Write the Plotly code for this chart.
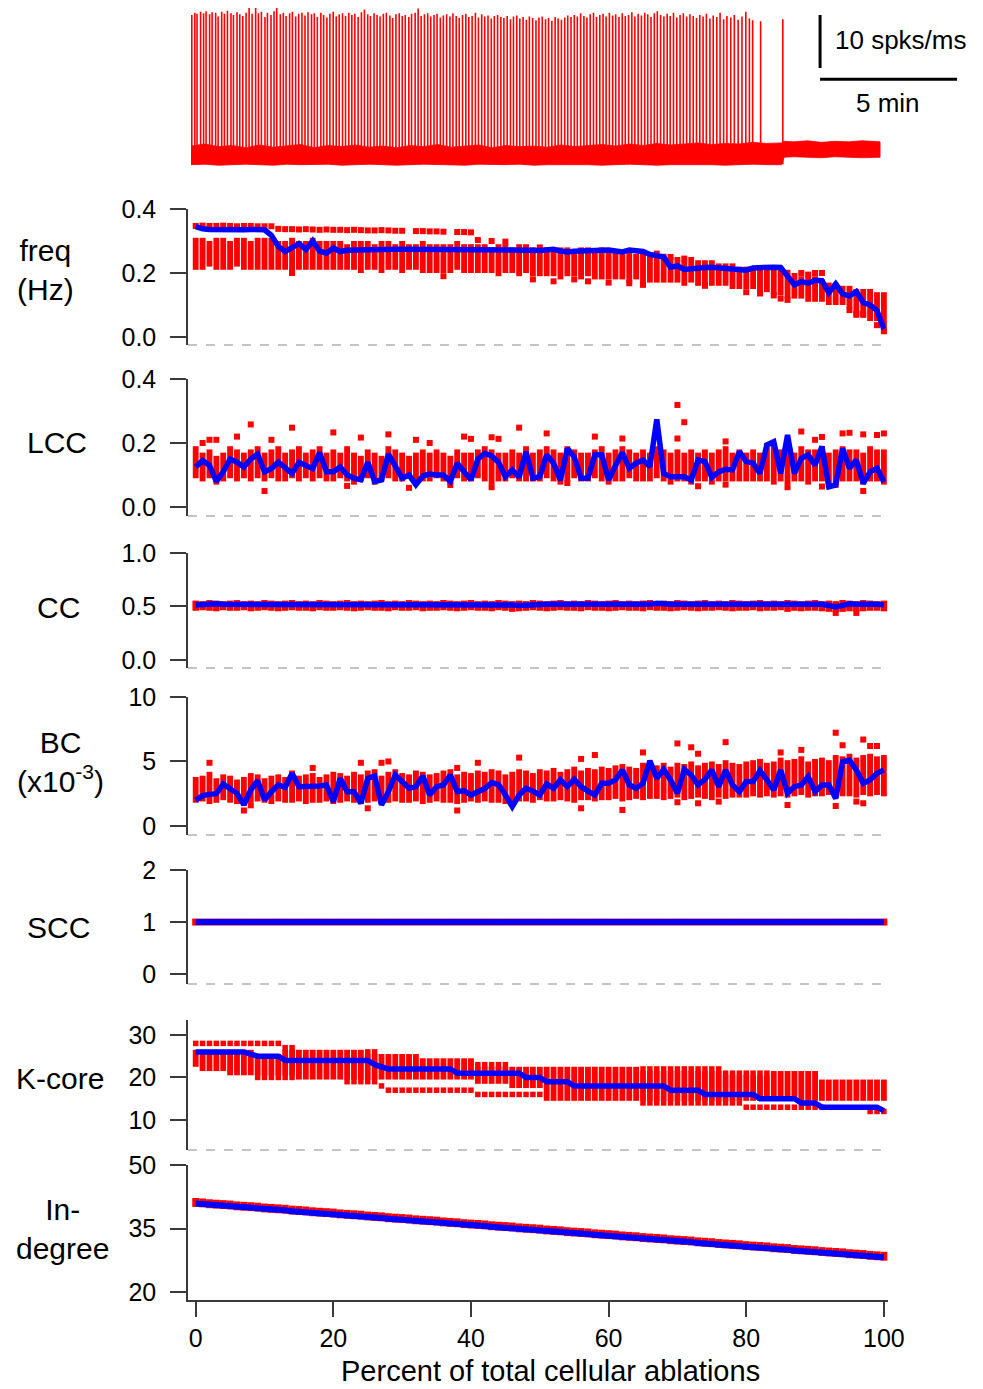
import plotly.graph_objects as go

# The page body has an 8px margin: the figure is sized to fill the rest of the window.
OFF = 8
W, H = 983 - OFF, 1389 - OFF

# ---------------- data ----------------
pct = list(range(0, 101))

freq_mean = [0.345,0.338,0.336,0.335,0.335,0.335,0.335,0.335,0.336,0.336,
             0.335,0.318,0.283,0.267,0.280,0.292,0.273,0.300,0.268,0.262,
             0.278,0.267,0.271,0.272,0.272,0.273,0.273,0.273,0.274,0.274,
             0.274,0.274,0.275,0.275,0.275,0.275,0.275,0.274,0.275,0.275,
             0.275,0.274,0.274,0.274,0.274,0.273,0.273,0.272,0.271,0.271,
             0.270,0.273,0.274,0.269,0.266,0.268,0.269,0.270,0.271,0.272,
             0.272,0.269,0.266,0.272,0.270,0.267,0.258,0.254,0.250,0.218,
             0.222,0.211,0.214,0.215,0.217,0.218,0.216,0.213,0.211,0.210,
             0.209,0.216,0.218,0.218,0.218,0.217,0.190,0.163,0.173,0.168,
             0.177,0.176,0.138,0.166,0.135,0.128,0.142,0.108,0.100,0.082,
             0.025]
freq_hi = [0.31,0.31,0.30,0.31,0.31,0.30,0.31,0.31,0.30,0.31,
           0.31,0.31,0.30,0.30,0.31,0.30,0.30,0.31,0.30,0.30,
           0.30,0.30,0.29,0.30,0.30,0.30,0.29,0.30,0.30,0.29,
           0.30,0.29,0.29,0.30,0.29,0.29,0.29,0.29,0.30,0.29,
           0.29,0.29,0.29,0.28,0.29,0.29,0.28,0.29,0.29,0.28,
           0.28,0.28,0.28,0.28,0.28,0.27,0.28,0.28,0.27,0.28,
           0.27,0.27,0.27,0.27,0.26,0.27,0.26,0.27,0.26,0.25,
           0.25,0.24,0.25,0.24,0.24,0.24,0.23,0.23,0.23,0.22,
           0.22,0.22,0.22,0.21,0.22,0.21,0.21,0.20,0.19,0.19,
           0.19,0.18,0.17,0.17,0.16,0.16,0.15,0.15,0.15,0.14,
           0.14]
freq_lo = [0.21,0.21,0.22,0.21,0.21,0.21,0.22,0.21,0.21,0.21,
           0.21,0.21,0.21,0.21,0.20,0.21,0.21,0.21,0.21,0.21,
           0.21,0.21,0.21,0.21,0.20,0.21,0.21,0.20,0.21,0.21,
           0.20,0.21,0.21,0.20,0.20,0.20,0.20,0.20,0.21,0.20,
           0.20,0.20,0.20,0.20,0.19,0.20,0.20,0.19,0.20,0.19,
           0.19,0.19,0.19,0.18,0.19,0.19,0.18,0.19,0.18,0.18,
           0.18,0.18,0.18,0.17,0.18,0.17,0.17,0.17,0.17,0.17,
           0.17,0.16,0.17,0.16,0.16,0.16,0.16,0.16,0.15,0.15,
           0.15,0.15,0.14,0.14,0.13,0.13,0.12,0.12,0.12,0.11,
           0.11,0.11,0.10,0.10,0.10,0.09,0.06,0.06,0.05,0.05,
           0.01]
freq_toprow = [0.347,0.348,0.347,0.347,0.348,0.347,0.346,0.347,0.347,0.346,
               0.346,0.346,0.338,0.337,0.337,0.336,0.337,0.336,0.335,0.336,
               0.335,0.335,0.334,0.335,0.334,0.333,0.333,0.334,0.333,0.332,
               0.332,None,0.331,0.331,0.330,0.330,0.329,None,0.328,0.328,
               0.327,0.303,None,0.300,None,0.298,None,None,None,None,
               None,None,None,None,None,None,None,None,None,None,
               None,None,None,None,None,None,None,None,None,None,
               None,None,None,None,None,None,None,None,None,None,
               None,None,None,None,None,None,None,None,None,None,
               None,None,None,None,None,None,None,None,None,None,
               None]
freq_out_x = [14, 36, 49, 50, 52, 55, 57, 60, 63, 65, 69, 71, 74, 80, 82, 84,
              85, 86, 88, 89, 90, 91, 95, 96, 97, 99, 100]
freq_out_y = [0.20, 0.19, 0.18, 0.28, 0.174, 0.18, 0.174, 0.17, 0.168, 0.163,
              0.25, 0.245, 0.16, 0.14, 0.136, 0.13, 0.12, 0.116, 0.20, 0.195,
              0.20, 0.20, 0.084, 0.073, 0.071, 0.037, 0.018]

lcc_mean = [0.125,0.145,0.13,0.08,0.11,0.15,0.14,0.125,0.15,0.165,
            0.11,0.12,0.14,0.12,0.105,0.14,0.13,0.12,0.17,0.11,
            0.11,0.125,0.10,0.09,0.085,0.14,0.08,0.085,0.165,0.125,
            0.09,0.10,0.07,0.097,0.103,0.10,0.10,0.08,0.137,0.11,
            0.085,0.15,0.168,0.16,0.14,0.095,0.116,0.093,0.173,0.09,
            0.095,0.163,0.137,0.084,0.183,0.157,0.09,0.09,0.163,0.163,
            0.084,0.13,0.17,0.121,0.137,0.147,0.126,0.274,0.105,0.095,
            0.097,0.095,0.084,0.147,0.142,0.093,0.11,0.118,0.116,0.173,
            0.142,0.137,0.105,0.194,0.204,0.105,0.225,0.105,0.152,0.163,
            0.131,0.189,0.063,0.069,0.183,0.121,0.147,0.074,0.11,0.121,
            0.078]
lcc_hi = [0.19,0.17,0.18,0.16,0.17,0.19,0.18,0.17,0.18,0.19,
          0.17,0.18,0.19,0.17,0.18,0.19,0.17,0.18,0.19,0.17,
          0.18,0.17,0.19,0.17,0.16,0.18,0.17,0.16,0.19,0.18,
          0.17,0.16,0.17,0.18,0.17,0.18,0.17,0.16,0.18,0.17,
          0.17,0.18,0.19,0.18,0.17,0.17,0.18,0.17,0.19,0.17,
          0.18,0.19,0.18,0.17,0.19,0.18,0.17,0.17,0.18,0.19,
          0.17,0.18,0.19,0.18,0.17,0.18,0.17,0.19,0.18,0.17,
          0.18,0.17,0.18,0.17,0.18,0.17,0.18,0.19,0.17,0.18,
          0.17,0.18,0.17,0.20,0.20,0.18,0.20,0.17,0.19,0.18,
          0.18,0.19,0.17,0.18,0.19,0.18,0.18,0.17,0.19,0.18,
          0.18]
lcc_lo = [0.09,0.08,0.09,0.07,0.08,0.09,0.08,0.09,0.08,0.09,
          0.08,0.09,0.08,0.08,0.09,0.08,0.09,0.08,0.09,0.08,
          0.08,0.09,0.08,0.07,0.08,0.09,0.07,0.08,0.09,0.08,
          0.08,0.09,0.07,0.08,0.08,0.09,0.08,0.07,0.09,0.08,
          0.08,0.09,0.08,0.07,0.08,0.08,0.09,0.08,0.08,0.08,
          0.08,0.09,0.08,0.07,0.08,0.09,0.08,0.08,0.09,0.08,
          0.07,0.08,0.08,0.09,0.08,0.08,0.08,0.09,0.08,0.07,
          0.08,0.08,0.07,0.08,0.08,0.07,0.08,0.08,0.08,0.08,
          0.08,0.08,0.08,0.08,0.07,0.08,0.07,0.08,0.08,0.07,
          0.08,0.08,0.06,0.06,0.08,0.08,0.08,0.07,0.08,0.08,
          0.07]
lcc_out_x = [1, 2, 3, 6, 8, 10, 11, 14, 20, 22, 24, 28, 31, 32, 34, 37, 39, 40,
             43, 43, 44, 47, 51, 54, 58, 62, 70, 70, 71, 73, 77, 77, 86, 88, 90,
             91, 91, 94, 95, 97, 97, 99, 100]
lcc_out_y = [0.20, 0.21, 0.21, 0.22, 0.258, 0.05, 0.21, 0.248, 0.233, 0.066,
             0.217, 0.227, 0.06, 0.21, 0.20, 0.069, 0.22, 0.213, 0.218, 0.062,
             0.213, 0.248, 0.23, 0.075, 0.22, 0.214, 0.319, 0.214, 0.265, 0.065,
             0.205, 0.07, 0.062, 0.236, 0.21, 0.219, 0.064, 0.23, 0.232, 0.227,
             0.05, 0.225, 0.23]

cc_mean = [0.515,0.52,0.52,0.525,0.52,0.52,0.52,0.525,0.52,0.52,
           0.52,0.525,0.52,0.52,0.52,0.52,0.525,0.52,0.52,0.52,
           0.52,0.52,0.525,0.52,0.52,0.52,0.52,0.52,0.525,0.52,
           0.52,0.52,0.52,0.52,0.525,0.52,0.52,0.52,0.52,0.52,
           0.52,0.52,0.52,0.52,0.52,0.52,0.515,0.51,0.515,0.52,
           0.52,0.52,0.52,0.525,0.52,0.52,0.52,0.52,0.52,0.52,
           0.515,0.52,0.52,0.52,0.52,0.52,0.52,0.53,0.52,0.52,
           0.52,0.52,0.52,0.515,0.52,0.52,0.52,0.52,0.52,0.52,
           0.52,0.52,0.525,0.52,0.52,0.52,0.515,0.52,0.52,0.52,
           0.52,0.52,0.51,0.495,0.51,0.525,0.52,0.515,0.52,0.52,
           0.515]
cc_hi = [0.555,0.55,0.56,0.555,0.55,0.555,0.56,0.55,0.555,0.55,
         0.56,0.555,0.55,0.555,0.56,0.55,0.555,0.55,0.56,0.555,
         0.55,0.555,0.56,0.55,0.555,0.55,0.555,0.56,0.55,0.555,
         0.55,0.56,0.555,0.55,0.555,0.55,0.56,0.555,0.55,0.555,
         0.56,0.55,0.555,0.55,0.56,0.555,0.55,0.555,0.55,0.56,
         0.555,0.55,0.555,0.56,0.55,0.555,0.55,0.56,0.555,0.55,
         0.555,0.56,0.55,0.555,0.55,0.555,0.56,0.55,0.555,0.55,
         0.56,0.555,0.55,0.555,0.56,0.55,0.555,0.55,0.56,0.555,
         0.55,0.555,0.56,0.55,0.555,0.55,0.56,0.555,0.55,0.555,
         0.56,0.55,0.555,0.55,0.56,0.555,0.55,0.56,0.555,0.55,
         0.555]
cc_lo = [0.46,0.465,0.46,0.455,0.465,0.46,0.46,0.465,0.455,0.46,
         0.465,0.46,0.455,0.46,0.465,0.46,0.46,0.455,0.465,0.46,
         0.46,0.465,0.46,0.455,0.46,0.465,0.46,0.46,0.455,0.465,
         0.46,0.46,0.465,0.455,0.46,0.46,0.465,0.46,0.455,0.46,
         0.465,0.46,0.46,0.455,0.465,0.46,0.45,0.455,0.46,0.465,
         0.46,0.455,0.46,0.465,0.46,0.46,0.455,0.465,0.46,0.46,
         0.455,0.46,0.465,0.46,0.46,0.455,0.465,0.46,0.46,0.455,
         0.46,0.465,0.46,0.455,0.46,0.46,0.465,0.46,0.455,0.46,
         0.46,0.465,0.455,0.46,0.46,0.465,0.45,0.46,0.455,0.46,
         0.46,0.455,0.45,0.445,0.45,0.455,0.45,0.455,0.46,0.46,
         0.455]
cc_out_x = [93, 96]
cc_out_y = [0.44, 0.44]

bc_mean = [2.0,2.35,2.45,2.5,3.26,2.92,2.53,1.63,2.79,3.51,
           2.02,2.66,3.18,3.0,4.08,3.05,3.05,3.05,3.1,3.18,
           1.89,3.69,2.66,2.66,1.76,3.69,3.87,1.63,2.66,3.95,
           3.44,2.92,3.05,3.87,2.4,3.05,3.18,3.95,2.66,2.74,
           2.4,2.6,2.9,3.36,3.2,2.4,1.5,2.4,2.92,2.7,
           2.4,3.26,2.92,3.57,3.05,3.62,3.05,2.7,2.4,3.31,
           3.31,3.57,4.34,3.18,2.92,3.31,5.06,3.69,4.39,3.57,
           2.53,4.39,3.95,3.18,3.62,4.34,3.05,4.34,3.18,2.66,
           3.44,3.44,4.29,3.57,2.79,4.34,2.53,3.05,3.18,3.82,
           2.66,3.18,3.18,2.14,4.98,5.1,4.34,3.31,3.57,4.08,
           4.34]
bc_hi = [3.8,3.9,4.2,3.7,4.0,3.9,3.6,3.8,4.1,4.0,
         3.7,3.9,4.0,3.8,4.3,3.9,4.0,4.1,3.8,4.0,
         4.2,4.1,3.9,4.2,4.0,4.3,4.4,3.9,4.2,4.4,
         4.1,4.0,4.3,4.2,4.0,4.1,4.3,4.4,4.0,4.2,
         4.1,4.3,4.2,4.4,4.3,4.0,4.2,4.4,4.3,4.1,
         4.4,4.3,4.5,4.2,4.4,4.6,4.3,4.5,4.4,4.6,
         4.5,4.7,4.8,4.6,4.5,4.9,4.8,4.7,4.9,4.6,
         4.9,4.8,5.0,4.7,4.9,5.0,4.8,5.1,4.9,4.8,
         5.0,5.1,5.2,4.9,5.0,5.3,5.1,5.2,5.4,5.0,
         5.2,5.3,5.1,5.5,5.4,5.6,5.3,5.5,5.6,5.4,
         5.5]
bc_lo = [1.8,1.9,1.7,1.8,2.0,1.8,1.7,1.6,1.8,1.9,
         1.8,1.7,1.9,1.8,1.8,1.9,1.7,1.8,1.8,1.9,
         1.7,1.8,1.9,1.8,1.7,1.8,1.9,1.7,1.8,1.9,
         1.8,1.8,1.9,1.7,1.8,1.9,1.8,1.8,1.7,1.8,
         1.9,1.8,1.9,1.8,1.8,1.7,1.8,1.9,1.9,1.8,
         2.0,1.9,1.9,2.0,1.9,1.8,2.0,2.0,1.9,2.0,
         2.0,2.1,1.9,2.0,2.1,2.0,2.1,2.1,2.0,2.1,
         2.2,2.0,2.1,2.2,2.1,2.0,2.2,2.1,2.2,2.2,
         2.2,2.3,2.2,2.3,2.2,2.3,2.2,2.3,2.4,2.2,
         2.3,2.3,2.4,2.2,2.3,2.3,2.2,2.4,2.3,2.4,
         2.3]
bc_out_x = [2, 7, 8, 17, 24, 25, 27, 28, 38, 38, 41, 47, 56, 56, 58, 62, 65, 70,
            70, 72, 73, 73, 76, 77, 85, 86, 88, 93, 93, 94, 96, 97, 97, 98, 99]
bc_out_y = [4.9, 1.2, 1.6, 4.5, 4.9, 1.37, 4.9, 5.0, 4.5, 1.2, 4.9, 5.3, 5.2,
            1.37, 5.5, 1.24, 5.7, 6.4, 1.84, 6.1, 5.6, 1.76, 1.89, 6.5, 5.7,
            1.63, 5.9, 7.23, 1.55, 6.26, 1.89, 6.7, 1.76, 6.2, 6.2]

scc_mean = [1,1,1,1,1,1,1,1,1,1, 1,1,1,1,1,1,1,1,1,1, 1,1,1,1,1,1,1,1,1,1,
            1,1,1,1,1,1,1,1,1,1, 1,1,1,1,1,1,1,1,1,1, 1,1,1,1,1,1,1,1,1,1,
            1,1,1,1,1,1,1,1,1,1, 1,1,1,1,1,1,1,1,1,1, 1,1,1,1,1,1,1,1,1,1,
            1,1,1,1,1,1,1,1,1,1, 1]
scc_trials = [1,1,1,1,1,1,1,1,1,1, 1,1,1,1,1,1,1,1,1,1, 1,1,1,1,1,1,1,1,1,1,
              1,1,1,1,1,1,1,1,1,1, 1,1,1,1,1,1,1,1,1,1, 1,1,1,1,1,1,1,1,1,1,
              1,1,1,1,1,1,1,1,1,1, 1,1,1,1,1,1,1,1,1,1, 1,1,1,1,1,1,1,1,1,1,
              1,1,1,1,1,1,1,1,1,1, 1]

kc_mean = [26,26,26,26,26,26,26,26,25.5,25,
           25,25,25,24,24,24,24,24,24,24,
           24,24,24,24,24,24,23,22.4,22,22,
           22,22,22,22,22,22,22,22,21,21,
           21,21,21,21,21,21,21,21,20,20,
           20,19,19,19,19,18,18,18,18,18,
           18,18,18,18,18,18,18,18,18,17,
           17,17,17,17,16,16,16,16,16,16,
           16,16,15,15,15,15,15,15,14,14,
           14,13,13,13,13,13,13,13,13,13,
           12.2]
kc_hi = [26,26,26,26,26,26,26,26,26,25,
         25,25,25,26,26,26,26,26,26,26,
         26,26,26,26,26,25,25,25,25,25,
         25,25,25,24,24,24,24,24,24,24,
         24,22,22,22,22,22,22,22,22,22,
         22,22,22,22,22,22,22,22,22,22,
         22,22,22,22,22,21,21,21,21,21,
         21,21,21,21,21,21,21,20,20,20,
         20,20,20,20,21,21,21,21,21,21,
         21,19,19,19,19,19,19,19,19,19,
         19]
kc_lo = [23,22,22,22,22,21,21,21,21,21,
         21,21,21,21,21,20,20,20,20,20,
         20,20,20,20,20,20,20,20,20,20,
         20,20,20,20,20,20,20,20,20,20,
         20,19,19,19,19,19,18,18,18,18,
         18,15,15,15,15,15,15,15,15,15,
         15,15,15,15,15,15,15,15,15,15,
         15,15,15,15,15,15,15,15,15,15,
         15,15,15,15,15,15,15,15,15,15,
         15,15,15,15,15,15,15,15,15,15,
         15]
kc_toprow = [28,28,28,28,28,28,28,28,28,28,
             28,28,28,27,27,None,None,None,None,None,
             None,None,None,None,None,26,26,None,None,None,
             None,None,None,None,None,None,None,None,None,None,
             None,23,23,23,23,23,None,None,None,None,
             None,None,None,None,None,None,None,None,None,None,
             None,None,None,None,None,22,22,22,22,22,
             22,22,22,22,22,22,22,21,21,21,
             21,21,21,21,None,None,None,None,None,None,
             None,None,None,None,None,None,None,None,None,None,
             None]
kc_lowrow = [None,None,None,None,None,None,None,None,None,20,
             20,20,20,20,20,None,None,None,None,None,
             None,None,19,19,19,19,19,18,17,17,
             17,17,17,17,17,17,17,17,17,17,
             17,16,16,16,16,16,16,16,16,16,
             16,None,None,None,None,None,None,None,None,None,
             None,None,None,None,None,14,14,14,14,14,
             14,14,14,14,14,14,14,14,14,14,
             13,13,13,13,13,13,13,13,13,13,
             13,13,None,None,None,None,None,None,12,12,
             12]

indeg_mean = [40.9,40.8,40.6,40.5,40.4,40.3,40.1,40.0,39.9,39.8,
              39.6,39.5,39.4,39.3,39.1,39.0,38.9,38.7,38.6,38.5,
              38.4,38.2,38.1,38.0,37.9,37.7,37.6,37.5,37.3,37.2,
              37.1,37.0,36.8,36.7,36.6,36.5,36.3,36.2,36.1,35.9,
              35.8,35.7,35.6,35.4,35.3,35.2,35.1,34.9,34.8,34.7,
              34.6,34.4,34.3,34.2,34.0,33.9,33.8,33.7,33.5,33.4,
              33.3,33.2,33.0,32.9,32.8,32.6,32.5,32.4,32.3,32.1,
              32.0,31.9,31.8,31.6,31.5,31.4,31.2,31.1,31.0,30.9,
              30.7,30.6,30.5,30.4,30.2,30.1,30.0,29.8,29.7,29.6,
              29.5,29.3,29.2,29.1,29.0,28.8,28.7,28.6,28.5,28.3,
              28.2]
indeg_hi = [42.2,42.1,41.9,41.8,41.7,41.6,41.4,41.3,41.2,41.1,
            40.9,40.8,40.7,40.6,40.4,40.3,40.2,40.0,39.9,39.8,
            39.7,39.5,39.4,39.3,39.2,39.0,38.9,38.8,38.6,38.5,
            38.4,38.3,38.1,38.0,37.9,37.8,37.6,37.5,37.4,37.2,
            37.1,37.0,36.9,36.7,36.6,36.5,36.4,36.2,36.1,36.0,
            35.9,35.7,35.6,35.5,35.3,35.2,35.1,35.0,34.8,34.7,
            34.6,34.5,34.3,34.2,34.1,33.9,33.8,33.7,33.6,33.4,
            33.3,33.2,33.1,32.9,32.8,32.7,32.5,32.4,32.3,32.2,
            32.0,31.9,31.8,31.7,31.5,31.4,31.3,31.1,31.0,30.9,
            30.8,30.6,30.5,30.4,30.3,30.1,30.0,29.9,29.7,29.6,
            29.5]
indeg_lo = [40.1,40.0,39.8,39.7,39.6,39.5,39.3,39.2,39.1,39.0,
            38.8,38.7,38.6,38.5,38.3,38.2,38.1,37.9,37.8,37.7,
            37.6,37.4,37.3,37.2,37.1,36.9,36.8,36.7,36.5,36.4,
            36.3,36.2,36.0,35.9,35.8,35.7,35.5,35.4,35.3,35.1,
            35.0,34.9,34.8,34.6,34.5,34.4,34.3,34.1,34.0,33.9,
            33.8,33.6,33.5,33.4,33.2,33.1,33.0,32.9,32.7,32.6,
            32.5,32.4,32.2,32.1,32.0,31.8,31.7,31.6,31.5,31.3,
            31.2,31.1,31.0,30.8,30.7,30.6,30.4,30.3,30.2,30.1,
            29.9,29.8,29.7,29.6,29.4,29.3,29.2,29.0,28.9,28.8,
            28.7,28.5,28.4,28.3,28.2,28.0,27.9,27.8,27.6,27.5,
            27.4]

# top trace: spike times (min) and peak values (spks/ms)
spike_t = [0.03,0.14,0.22,0.35,0.46,0.55,0.68,0.77,0.90,0.99,
           1.12,1.22,1.33,1.46,1.55,1.68,1.78,1.89,2.01,2.12,
           2.23,2.36,2.46,2.57,2.70,2.79,2.92,3.03,3.13,3.26,
           3.37,3.47,3.60,3.70,3.82,3.93,4.05,4.16,4.27,4.40,
           4.50,4.61,4.74,4.84,4.96,5.07,5.19,5.30,5.41,5.53,
           5.64,5.76,5.87,5.98,6.10,6.22,6.33,6.45,6.55,6.68,
           6.79,6.90,7.02,7.13,7.26,7.36,7.48,7.60,7.71,7.82,
           7.95,8.05,8.18,8.29,8.40,8.52,8.64,8.75,8.87,8.98,
           9.10,9.21,9.33,9.45,9.56,9.68,9.79,9.91,10.03,10.14,
           10.26,10.38,10.49,10.61,10.72,10.84,10.96,11.07,11.19,11.31,
           11.42,11.54,11.66,11.77,11.89,12.00,12.12,12.24,12.35,12.47,
           12.59,12.70,12.82,12.94,13.05,13.17,13.29,13.40,13.52,13.64,
           13.75,13.87,13.99,14.10,14.22,14.34,14.45,14.57,14.69,14.80,
           14.92,15.04,15.15,15.27,15.39,15.50,15.62,15.74,15.85,15.97,
           16.09,16.20,16.32,16.44,16.56,16.67,16.79,16.91,17.02,17.14,
           17.26,17.38,17.49,17.61,17.73,17.85,17.97,18.09,18.21,18.33,
           18.45,18.57,18.69,18.81,18.94,19.06,19.19,19.31,19.44,19.56,
           19.70,19.83,19.97,20.11,20.25,20.38,20.50,20.79,21.60]
spike_h = [27.2,27.6,27.4,27.8,27.5,27.9,27.3,27.7,27.6,26.9,
           27.8,27.4,28.0,27.5,27.2,27.7,27.3,27.0,27.6,28.6,
           27.4,28.9,27.5,27.8,26.8,27.6,27.2,27.9,28.7,27.3,
           27.6,27.0,27.5,27.8,26.9,27.4,27.6,27.1,27.7,27.3,
           27.5,26.8,27.6,27.2,26.7,27.4,27.8,26.9,27.3,27.5,
           27.0,27.6,27.2,27.4,26.8,27.7,28.2,27.3,27.0,27.5,
           27.2,26.9,27.4,27.6,27.1,26.6,27.3,27.5,27.0,27.2,
           26.8,27.4,27.6,28.4,27.0,27.3,27.5,26.9,27.2,27.4,
           26.7,27.1,27.3,26.9,27.5,27.0,26.6,27.2,27.4,26.8,
           27.0,27.6,26.7,27.3,26.9,27.1,26.5,27.0,27.2,26.8,
           26.6,27.0,26.4,26.9,27.1,26.5,26.8,26.3,26.9,26.6,
           26.2,26.7,26.9,26.4,26.6,26.1,26.8,26.5,26.3,26.7,
           27.1,26.8,27.2,26.9,27.5,27.0,26.7,27.3,27.6,26.8,
           27.2,27.4,26.9,27.6,27.1,27.3,26.8,27.5,27.0,27.2,
           27.7,26.9,27.4,27.1,27.6,27.3,26.8,27.5,27.9,27.2,
           26.9,27.4,27.0,27.6,26.7,27.2,27.5,26.9,27.3,27.0,
           26.6,27.2,26.9,27.4,26.5,27.1,26.8,27.6,26.4,27.0,
           26.7,27.2,26.3,26.9,27.8,26.5,26.2,26.0,26.4]
base_t = [0.0,0.5,1.0,1.5,2.0,2.5,3.0,3.5,4.0,4.5,
          5.0,5.5,6.0,6.5,7.0,7.5,8.0,8.5,9.0,9.5,
          10.0,10.5,11.0,11.5,12.0,12.5,13.0,13.5,14.0,14.5,
          15.0,15.5,16.0,16.5,17.0,17.5,18.0,18.5,19.0,19.5,
          20.0,20.5,21.0,21.55,21.65,22.0,22.5,23.0,23.5,24.0,
          24.5,25.15]
base_top = [2.5,2.9,2.4,2.6,2.2,2.7,2.3,2.5,2.8,2.2,
            2.6,2.4,2.7,2.3,2.5,2.2,2.6,2.4,2.8,2.3,
            2.5,2.7,2.2,2.6,2.4,2.5,2.3,2.7,2.4,2.6,
            2.8,2.5,2.9,2.6,3.0,2.7,2.9,3.1,2.8,3.0,
            2.9,3.2,3.0,3.1,3.4,3.3,3.5,3.2,3.4,3.3,
            3.5,3.3]
base_bot = [-1.0,-0.9,-1.1,-1.0,-0.9,-1.0,-1.1,-0.9,-1.0,-1.0,
            -0.9,-1.1,-1.0,-0.9,-1.0,-1.1,-1.0,-0.9,-1.0,-1.0,
            -1.1,-0.9,-1.0,-1.0,-0.9,-1.1,-1.0,-0.9,-1.0,-1.0,
            -1.1,-1.0,-0.9,-1.0,-1.1,-1.0,-0.9,-1.0,-1.0,-1.1,
            -1.0,-0.9,-1.0,-1.0,0.4,0.5,0.4,0.3,0.5,0.4,
            0.3,0.4]
scale_rate = 10   # spks/ms
scale_time = 5    # min

for arr in [freq_mean, freq_hi, freq_lo, freq_toprow, lcc_mean, lcc_hi, lcc_lo,
            cc_mean, cc_hi, cc_lo, bc_mean, bc_hi, bc_lo, scc_mean, scc_trials,
            kc_mean, kc_hi, kc_lo, kc_toprow, kc_lowrow, indeg_mean, indeg_hi, indeg_lo]:
    assert len(arr) == 101, len(arr)
assert len(spike_t) == len(spike_h)
assert len(base_t) == len(base_top) == len(base_bot)

# ---------------- helpers (window pixel -> paper fraction) ----------------
def fx(p):
    return (p - OFF) / W

def fy(p):
    return 1 - (p - OFF) / H

FONT = "Liberation Sans, Arial, Helvetica, sans-serif"
RED = "#FF0000"
BLUE = "#0000FF"
AXC = "#3a3a3a"

fig = go.Figure()
layout = dict(width=W, height=H, autosize=False,
              margin=dict(l=0, r=0, t=0, b=0, pad=0, autoexpand=False),
              paper_bgcolor="white", plot_bgcolor="white", showlegend=False,
              font=dict(family=FONT, color="black"))

panels = [
    dict(top=209, bot=345, rng=[-0.025, 0.4], tv=[0, 0.2, 0.4], tt=["0.0", "0.2", "0.4"],
         label="freq<br>(Hz)", lx=45, ly=270),
    dict(top=379, bot=516, rng=[-0.028, 0.4], tv=[0, 0.2, 0.4], tt=["0.0", "0.2", "0.4"],
         label="LCC", lx=57, ly=443),
    dict(top=553, bot=668, rng=[-0.075, 1.0], tv=[0, 0.5, 1.0], tt=["0.0", "0.5", "1.0"],
         label="CC", lx=58, ly=607),
    dict(top=697, bot=835, rng=[-0.7, 10], tv=[0, 5, 10], tt=["0", "5", "10"],
         label="BC<br>(x10<sup>-3</sup>)", lx=60, ly=762),
    dict(top=870, bot=984, rng=[-0.19, 2], tv=[0, 1, 2], tt=["0", "1", "2"],
         label="SCC", lx=58, ly=927),
    dict(top=1020, bot=1150, rng=[2.94, 33.5], tv=[10, 20, 30], tt=["10", "20", "30"],
         label="K-core", lx=60, ly=1078),
    dict(top=1165, bot=1300, rng=[18.11, 50], tv=[20, 35, 50], tt=["20", "35", "50"],
         label="In-<br>degree", lx=62, ly=1229),
]

XR = [-1.12, 100.6]
XDOM = [fx(188), fx(888)]
annotations = []
shapes = []

for i, p in enumerate(panels, start=1):
    s = "" if i == 1 else str(i)
    last = (i == len(panels))
    xa = dict(domain=XDOM, range=XR, anchor="y" + s, showgrid=False, zeroline=False,
              automargin=False)
    if last:
        xa.update(showline=True, linecolor=AXC, linewidth=1.5, ticks="outside", ticklen=15,
                  tickwidth=1.5, tickcolor=AXC, tickvals=[0, 20, 40, 60, 80, 100],
                  tickfont=dict(size=25, family=FONT, color="black"), ticklabelstandoff=0)
    else:
        xa.update(visible=False)
    layout["xaxis" + s] = xa
    layout["yaxis" + s] = dict(domain=[fy(p["bot"]), fy(p["top"])], range=p["rng"],
                               anchor="x" + s, showgrid=False, zeroline=False,
                               automargin=False,
                               showline=True, linecolor=AXC, linewidth=1.5,
                               ticks="outside", ticklen=16, tickwidth=1.5, tickcolor=AXC,
                               tickvals=p["tv"], ticktext=p["tt"],
                               tickfont=dict(size=25, family=FONT, color="black"),
                               ticklabelstandoff=9)
    annotations.append(dict(x=fx(p["lx"]), y=fy(p["ly"]), xref="paper", yref="paper",
                            text=p["label"], showarrow=False, xanchor="center",
                            yanchor="middle", font=dict(size=30, family=FONT, color="black")))
    if not last:
        shapes.append(dict(type="line", xref="paper", yref="paper", x0=fx(188), x1=fx(882),
                           y0=fy(p["bot"]), y1=fy(p["bot"]),
                           line=dict(color="#8a8a8a", width=1.2, dash="dash")))

def band(hi, lo, s, width=0.85):
    fig.add_trace(go.Bar(x=pct, y=[h - l for h, l in zip(hi, lo)], base=lo, width=width,
                         marker=dict(color=RED, line=dict(width=0)),
                         xaxis="x" + s, yaxis="y" + s))

def squares(xs, ys, s, size=6):
    fig.add_trace(go.Scatter(x=xs, y=ys, mode="markers",
                             marker=dict(symbol="square", size=size, color=RED, line=dict(width=0)),
                             xaxis="x" + s, yaxis="y" + s))

def meanline(ys, s, width=5.5):
    fig.add_trace(go.Scatter(x=pct, y=ys, mode="lines", line=dict(color=BLUE, width=width),
                             xaxis="x" + s, yaxis="y" + s))

# freq
band(freq_hi, freq_lo, "")
squares(pct, freq_toprow, "")
squares(freq_out_x, freq_out_y, "")
meanline(freq_mean, "")
# LCC
band(lcc_hi, lcc_lo, "2")
squares(lcc_out_x, lcc_out_y, "2")
meanline(lcc_mean, "2")
# CC
band(cc_hi, cc_lo, "3", width=0.95)
squares(cc_out_x, cc_out_y, "3")
meanline(cc_mean, "3")
# BC
band(bc_hi, bc_lo, "4")
squares(bc_out_x, bc_out_y, "4")
meanline(bc_mean, "4")
# SCC
squares(pct, scc_trials, "5", size=7)
meanline(scc_mean, "5", width=6)
# K-core (integer rows: bar spans each row +-0.5)
band([h + 0.5 for h in kc_hi], [l - 0.5 for l in kc_lo], "6")
squares(pct, kc_toprow, "6", size=5.5)
squares(pct, kc_lowrow, "6", size=5.5)
meanline(kc_mean, "6")
# In-degree
band(indeg_hi, indeg_lo, "7", width=1.0)
meanline(indeg_mean, "7", width=6)

# ---------------- top trace ----------------
# trace panel spans window rows 8..170, 5.3125 px per spks/ms, -2 at row 170
TR_PX = 5.3125
layout["xaxis8"] = dict(domain=[fx(191), fx(974.6)], range=[0, 28.6], anchor="y8",
                        visible=False, automargin=False)
layout["yaxis8"] = dict(domain=[fy(170), 1.0], range=[-2, -2 + (170 - OFF) / TR_PX],
                        anchor="x8", visible=False, automargin=False)

fig.add_trace(go.Scatter(x=base_t + base_t[::-1], y=base_top + base_bot[::-1], fill="toself",
                         fillcolor=RED, mode="lines", line=dict(color=RED, width=0.8),
                         xaxis="x8", yaxis="y8"))
sx, sy = [], []
for t, h in zip(spike_t, spike_h):
    sx += [t, t, None]
    sy += [-0.9, h, None]
fig.add_trace(go.Scatter(x=sx, y=sy, mode="lines", line=dict(color=RED, width=1.6),
                         xaxis="x8", yaxis="y8"))

sb_t = 22.96
sb_y = 17.2
shapes.append(dict(type="line", xref="x8", yref="y8", x0=sb_t, x1=sb_t, y0=sb_y,
                   y1=sb_y + scale_rate, line=dict(color="black", width=3)))
shapes.append(dict(type="line", xref="x8", yref="y8", x0=sb_t, x1=sb_t + scale_time,
                   y0=sb_y - 2.1, y1=sb_y - 2.1, line=dict(color="black", width=3)))
annotations.append(dict(x=fx(833), y=fy(40), xref="paper", yref="paper",
                        text=f"{scale_rate} spks/ms", showarrow=False, xanchor="left",
                        yanchor="middle", font=dict(size=26, family=FONT, color="black")))
annotations.append(dict(x=fx(888), y=fy(103), xref="paper", yref="paper",
                        text=f"{scale_time} min", showarrow=False, xanchor="center",
                        yanchor="middle", font=dict(size=26, family=FONT, color="black")))
annotations.append(dict(x=fx(550), y=fy(1371), xref="paper", yref="paper",
                        text="Percent of total cellular ablations", showarrow=False,
                        xanchor="center", yanchor="middle",
                        font=dict(size=29, family=FONT, color="black")))

layout["annotations"] = annotations
layout["shapes"] = shapes
fig.update_layout(**layout)
fig.write_html("out.html")
